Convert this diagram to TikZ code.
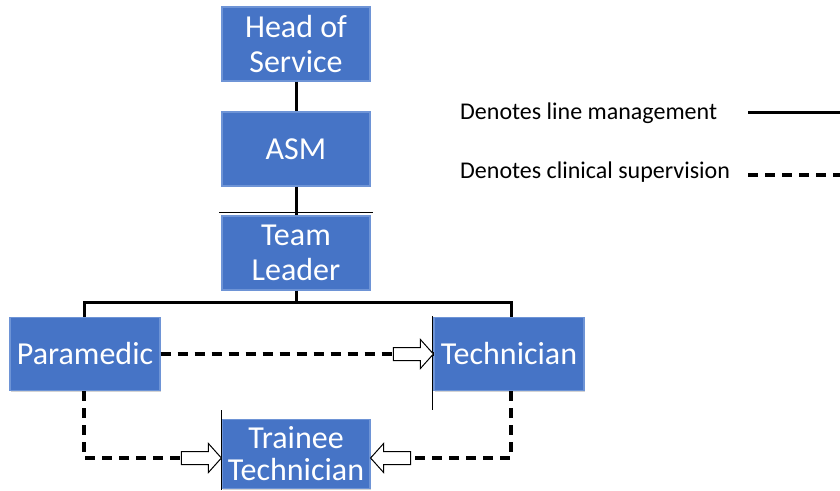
\documentclass[tikz,border=0pt]{standalone}
\usepackage{fontspec}
\setmainfont{Carlito}
\usetikzlibrary{shadows,calc}
\definecolor{boxblue}{RGB}{70,116,198}
\definecolor{boxedge}{RGB}{110,148,214}
\tikzset{
  rolebox/.style={rectangle, fill=boxblue, draw=boxedge, line width=1.2pt,
    minimum width=148pt, minimum height=74pt, inner sep=0pt, text=white,
    align=center, font=\fontsize{32}{35}\selectfont,
    drop shadow={shadow xshift=1.2pt, shadow yshift=-1.2pt, opacity=0.35}},
  mgmt/.style={line width=3pt, black},
  superv/.style={line width=3.2pt, black, dash pattern=on 10pt off 7pt},
  thinline/.style={line width=0.8pt, black},
  legendtext/.style={anchor=west, inner sep=0pt, font=\fontsize{24}{28}\selectfont},
  openarrow/.pic={\draw[fill=white, line width=1pt, line join=miter]
     (-40,-6.5) -- (-13,-6.5) -- (-13,-14.5) -- (0,0) -- (-13,14.5) -- (-13,6.5) -- (-40,6.5) -- cycle;}
}
\begin{document}
\begin{tikzpicture}[x=1pt, y=-1pt]
\useasboundingbox (0,0) rectangle (840,490);
% nodes
\node[rolebox] (hos) at (296,44) {Head of\\Service};
\node[rolebox] (asm) at (296,149) {ASM};
\node[rolebox] (tl) at (296,253) {Team\\Leader};
\node[rolebox, minimum width=150pt, minimum height=73pt] (para) at (85,354) {Paramedic};
\node[rolebox, minimum width=150pt, minimum height=73pt] (tech) at (509,354) {Technician};
\node[rolebox, minimum height=69pt, font=\fontsize{32}{32}\selectfont] (trainee) at (296,454) {Trainee\\Technician};
\coordinate (trw) at ($(trainee.west)+(0,4)$);
\coordinate (tre) at ($(trainee.east)+(0,4)$);
% line management
\draw[mgmt] (hos.south) -- (asm.north);
\draw[mgmt] (asm.south) -- (tl.north);
\coordinate (split) at (296,302);
\draw[mgmt] (tl.south) -- (split);
\draw[mgmt] (para.north -| 84,0) |- (split) -| (tech.north -| 511,0);
% thin stray lines
\draw[thinline] (219,212) -- (373,212);
\draw[thinline] (432,316) -- (432,410);
\draw[thinline] (221,410) -- (221,490);
% clinical supervision
\draw[superv] (para.east) -- (tech.west);
\draw[superv] (para.south -| 84,0) |- (trw);
\draw[superv] (tech.south -| 511,0) |- (tre);
\pic at (tech.west) {openarrow};
\pic at (trw) {openarrow};
\pic[rotate=180] at (tre) {openarrow};
% legend
\node[legendtext] (lm) at (460,113) {Denotes line management};
\node[legendtext] (cs) at (460,172) {Denotes clinical supervision};
\coordinate (lma) at (748,112);
\coordinate (lmb) at (845,112);
\coordinate (csa) at (748,175);
\coordinate (csb) at (845,175);
\draw[mgmt] (lma) -- (lmb);
\draw[superv] (csa) -- (csb);
\end{tikzpicture}
\end{document}
